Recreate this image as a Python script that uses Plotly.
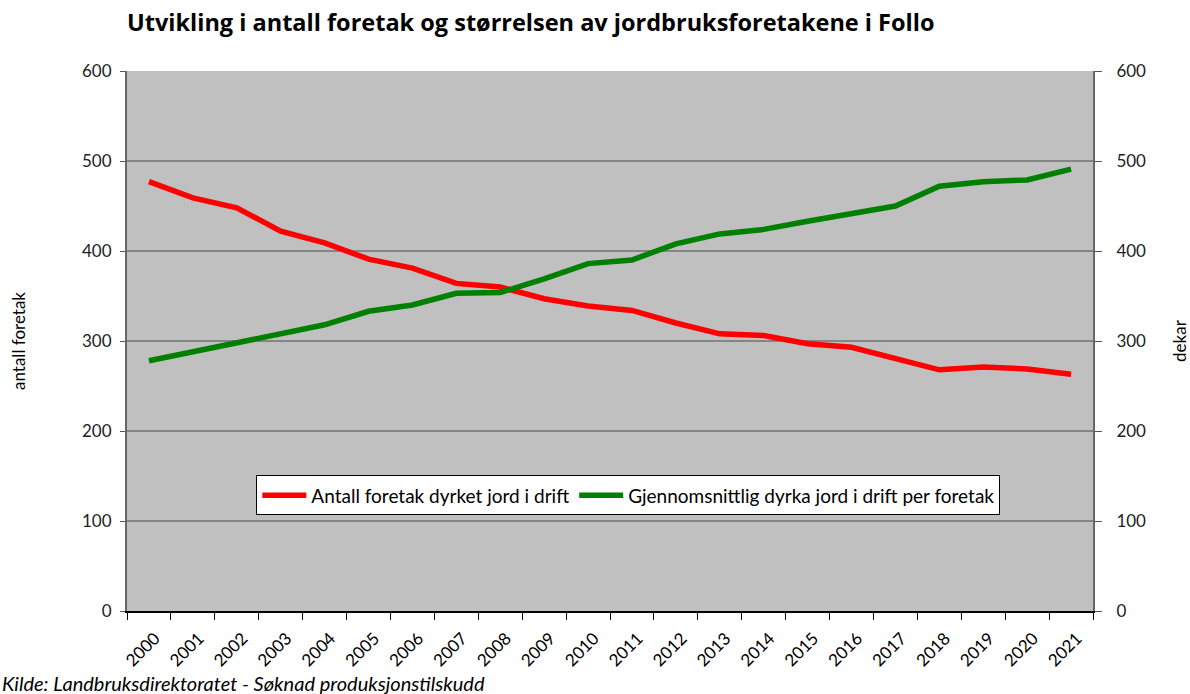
import plotly.graph_objects as go

years = [str(y) for y in range(2000, 2022)]
antall_foretak = [477, 459, 448, 422, 409, 391, 381, 364, 360, 347, 339, 334,
                  320, 308, 306, 297, 293, 281, 268, 271, 269, 263]
snitt_dekar = [278, 288, 299, 308, 318, 333, 340, 353, 354, 369, 386, 390,
               408, 419, 424, 433, 441, 450, 472, 477, 479, 491]
y_ticks = [0, 100, 200, 300, 400, 500, 600]

name_red = "Antall foretak dyrket jord i drift"
name_green = "Gjennomsnittlig dyrka jord i drift per foretak"
title = "Utvikling i antall foretak og størrelsen av jordbruksforetakene i Follo"
source = "Kilde: Landbruksdirektoratet - Søknad produksjonstilskudd"

FONT = "Lato, 'Open Sans', sans-serif"
TFONT = "'Open Sans', Lato, sans-serif"

fig = go.Figure()
fig.add_trace(go.Scatter(x=years, y=antall_foretak, name=name_red, mode="lines",
                         line=dict(color="#FF0000", width=5.5)))
fig.add_trace(go.Scatter(x=years, y=snitt_dekar, name=name_green, mode="lines",
                         line=dict(color="#008000", width=5.5), yaxis="y2"))

fig.update_layout(
    width=1190, height=694,
    margin=dict(l=127, r=97, t=71, b=83),
    paper_bgcolor="white",
    plot_bgcolor="#C0C0C0",
    font=dict(family=FONT, size=17, color="#222222"),
    title=dict(text="<b>" + title + "</b>", x=127/1190, xanchor="left",
               y=1 - 23/694, yanchor="middle", automargin=False,
               font=dict(family=TFONT, size=23.5, color="black")),
    showlegend=True,
    legend=dict(orientation="h", x=0.519, xanchor="center", y=0.214, yanchor="middle",
                bgcolor="white", bordercolor="black", borderwidth=1,
                font=dict(family=FONT, size=19, color="black"),
                itemwidth=44, tracegroupgap=0),
    xaxis=dict(type="category", range=[-0.5, 21.5], tickangle=-45, ticks="outside",
               tickson="boundaries", ticklen=7, tickcolor="black", showline=True,
               linecolor="black", linewidth=1.5, showgrid=False, automargin=False,
               ticklabelstandoff=9, ticklabelshift=6,
               tickfont=dict(size=17, color="black")),
    yaxis=dict(range=[0, 600], tickvals=y_ticks, ticks="outside", ticklen=5,
               tickcolor="#555555", showline=True, linecolor="#666666", linewidth=2,
               showgrid=True, gridcolor="#858585", gridwidth=1.5, zeroline=False,
               ticklabelstandoff=5, automargin=False,
               title=dict(text="antall foretak", standoff=52,
                          font=dict(size=17, color="black")),
               tickfont=dict(size=17, color="#222222")),
    yaxis2=dict(range=[0, 600], tickvals=y_ticks, overlaying="y", side="right",
                ticks="outside", ticklen=7, tickcolor="#555555", showline=True,
                linecolor="#666666", linewidth=2, showgrid=False, zeroline=False,
                ticklabelstandoff=11, automargin=False,
                title=dict(text="dekar", standoff=32,
                           font=dict(size=17, color="black")),
                tickfont=dict(size=17, color="#222222")),
)

fig.add_annotation(text="<i>" + source + "</i>", xref="paper", yref="paper",
                   x=-127/966, xanchor="left", y=-72/540, yanchor="middle",
                   showarrow=False, font=dict(family=FONT, size=20, color="black"))

fig.write_html("out.html", config={"displayModeBar": False},
               post_script="document.body.style.margin='0';document.body.style.overflow='hidden';")
